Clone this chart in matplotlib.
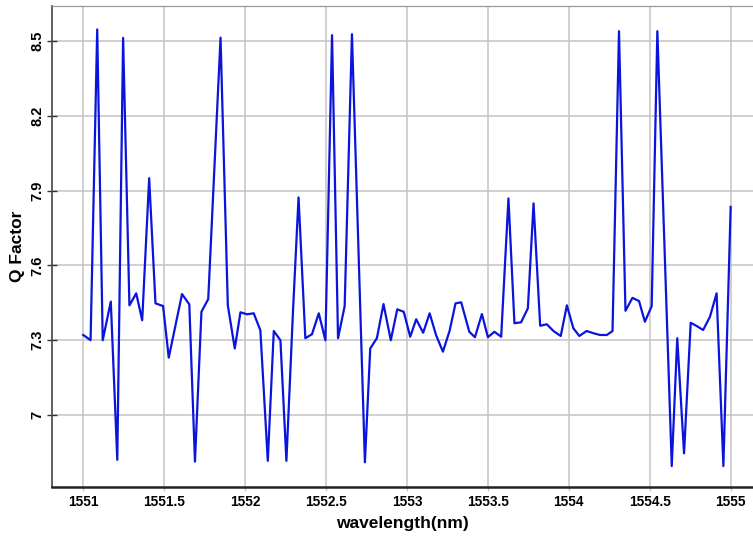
import numpy as np
import matplotlib
matplotlib.use('Agg')
import matplotlib.pyplot as plt
from matplotlib.ticker import FixedLocator

# wavelength (nm) and Q factor
wavelength = [1551.000, 1551.045, 1551.086, 1551.120, 1551.170, 1551.210, 1551.246,
              1551.285, 1551.327, 1551.364, 1551.407, 1551.446, 1551.493, 1551.528,
              1551.610, 1551.655, 1551.690, 1551.730, 1551.772, 1551.848, 1551.893,
              1551.936, 1551.971, 1552.012, 1552.053, 1552.094, 1552.140, 1552.177,
              1552.218, 1552.255, 1552.296, 1552.330, 1552.372, 1552.413, 1552.455,
              1552.496, 1552.537, 1552.574, 1552.615, 1552.660, 1552.740, 1552.773,
              1552.814, 1552.855, 1552.900, 1552.940, 1552.980, 1553.020, 1553.057,
              1553.100, 1553.140, 1553.180, 1553.222, 1553.263, 1553.300, 1553.335,
              1553.385, 1553.420, 1553.463, 1553.500, 1553.540, 1553.582, 1553.627,
              1553.664, 1553.705, 1553.747, 1553.782, 1553.823, 1553.864, 1553.905,
              1553.950, 1553.988, 1554.028, 1554.065, 1554.110, 1554.152, 1554.193,
              1554.235, 1554.270, 1554.310, 1554.350, 1554.393, 1554.434, 1554.470,
              1554.512, 1554.547, 1554.636, 1554.670, 1554.712, 1554.753, 1554.790,
              1554.830, 1554.872, 1554.913, 1554.955, 1555.000]
q_factor = [7.321, 7.300, 8.547, 7.300, 7.455, 6.820, 8.513,
            7.440, 7.488, 7.380, 7.950, 7.448, 7.437, 7.230,
            7.485, 7.444, 6.813, 7.414, 7.465, 8.514, 7.440,
            7.267, 7.412, 7.404, 7.408, 7.340, 6.816, 7.337,
            7.300, 6.816, 7.420, 7.873, 7.308, 7.324, 7.408,
            7.300, 8.524, 7.308, 7.437, 8.528, 6.810, 7.267,
            7.308, 7.445, 7.300, 7.424, 7.414, 7.314, 7.384,
            7.330, 7.408, 7.320, 7.254, 7.337, 7.448, 7.452,
            7.334, 7.312, 7.405, 7.312, 7.334, 7.314, 7.869,
            7.368, 7.372, 7.428, 7.849, 7.358, 7.364, 7.337,
            7.317, 7.440, 7.348, 7.317, 7.337, 7.328, 7.321,
            7.321, 7.337, 8.540, 7.418, 7.470, 7.457, 7.374,
            7.437, 8.540, 6.795, 7.308, 6.846, 7.370, 7.357,
            7.341, 7.394, 7.488, 6.795, 7.835]

xticks = [1551, 1551.5, 1552, 1552.5, 1553, 1553.5, 1554, 1554.5, 1555]
xtick_labels = ['1551', '1551.5', '1552', '1552.5', '1553', '1553.5', '1554', '1554.5', '1555']
yticks = [7.0, 7.3, 7.6, 7.9, 8.2, 8.5]
ytick_labels = ['7', '7.3', '7.6', '7.9', '8.2', '8.5']

plt.rcParams['font.family'] = ['Liberation Sans', 'DejaVu Sans']
plt.rcParams['font.weight'] = 'bold'

fig = plt.figure(figsize=(7.53, 5.41), dpi=100)
ax = fig.add_axes([0.0687, 0.0998, 0.9313, 0.8891])

ax.plot(wavelength, q_factor, color='#0a14dc', lw=1.6, zorder=3)

ax.set_xlim(1550.805, 1555.138)
ax.set_ylim(6.711, 8.641)
ax.xaxis.set_major_locator(FixedLocator(xticks))
ax.set_xticklabels(xtick_labels, fontsize=9.8, fontweight='bold')
ax.yaxis.set_major_locator(FixedLocator(yticks))
ax.set_yticklabels(ytick_labels, fontsize=10.5, fontweight='bold',
                   rotation=90, va='center')

ax.grid(True, color='#c4c4c4', lw=1.1, zorder=0)
ax.set_axisbelow(True)

ax.spines['right'].set_visible(False)
ax.spines['top'].set_color('#999999')
ax.spines['top'].set_linestyle((0, (1, 1)))
ax.spines['top'].set_linewidth(0.9)
ax.spines['left'].set_color('#444444')
ax.spines['left'].set_linewidth(1.2)
ax.spines['bottom'].set_color('#222222')
ax.spines['bottom'].set_linewidth(1.8)

ax.tick_params(axis='y', direction='inout', length=7, width=1, color='#333333', pad=2)
ax.tick_params(axis='x', direction='out', length=3, width=1, color='#c4c4c4', pad=3)

ax.set_xlabel('wavelength(nm)', fontsize=12.5, fontweight='bold', labelpad=5)
ax.set_ylabel('Q Factor', fontsize=12.5, fontweight='bold', labelpad=4)

fig.savefig('out.png', dpi=100)
